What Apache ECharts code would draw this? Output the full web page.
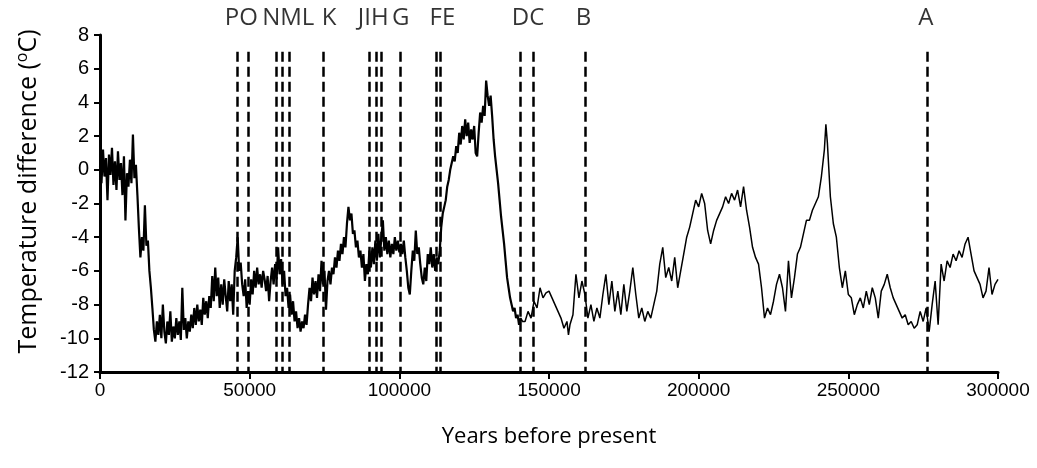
<!DOCTYPE html>
<html>
<head>
<meta charset="utf-8">
<script src="https://cdn.jsdelivr.net/npm/echarts@6/dist/echarts.min.js"></script>
<style>
html, body { margin: 0; padding: 0; background: #fff; }
#chart { width: 1037px; height: 468px; }
</style>
</head>
<body>
<div id="chart"></div>
<script>
// ice core temperature record, ages in thousands of years before present
var ageKyr = [
    0, 0.5, 1, 1.5, 2, 2.5, 3, 3.5, 4, 4.5,
    5, 5.5, 6, 6.5, 7, 7.5, 8, 8.5, 9, 9.5,
    10, 10.5, 11, 11.5, 12, 12.5, 13, 13.5, 14, 14.5,
    15, 15.5, 16, 16.5, 17, 17.5, 18, 18.5, 19, 19.5,
    20, 20.5, 21, 21.5, 22, 22.5, 23, 23.5, 24, 24.5,
    25, 25.5, 26, 26.5, 27, 27.5, 28, 28.5, 29, 29.5,
    30, 30.5, 31, 31.5, 32, 32.5, 33, 33.5, 34, 34.5,
    35, 35.5, 36, 36.5, 37, 37.5, 38, 38.5, 39, 39.5,
    40, 40.5, 41, 41.5, 42, 42.5, 43, 43.5, 44, 44.5,
    45, 45.5, 46, 46.5, 47, 47.5, 48, 48.5, 49, 49.5,
    50, 50.5, 51, 51.5, 52, 52.5, 53, 53.5, 54, 54.5,
    55, 55.5, 56, 56.5, 57, 57.5, 58, 58.5, 59, 59.5,
    60, 60.5, 61, 61.5, 62, 62.5, 63, 63.5, 64, 64.5,
    65, 65.5, 66, 66.5, 67, 67.5, 68, 68.5, 69, 69.5,
    70, 70.5, 71, 71.5, 72, 72.5, 73, 73.5, 74, 74.5,
    75, 75.5, 76, 76.5, 77, 77.5, 78, 78.5, 79, 79.5,
    80, 80.5, 81, 81.5, 82, 82.5, 83, 83.5, 84, 84.5,
    85, 85.5, 86, 86.5, 87, 87.5, 88, 88.5, 89, 89.5,
    90, 90.5, 91, 91.5, 92, 92.5, 93, 93.5, 94, 94.5,
    95, 95.5, 96, 96.5, 97, 97.5, 98, 98.5, 99, 99.5,
    100, 100.5, 101, 101.5, 102, 102.5, 103, 103.5, 104, 104.5,
    105, 105.5, 106, 106.5, 107, 107.5, 108, 108.5, 109, 109.5,
    110, 110.5, 111, 111.5, 112, 112.5, 113, 113.5, 114, 114.5,
    115, 115.5, 116, 116.5, 117, 117.5, 118, 118.5, 119, 119.5,
    120, 120.5, 121, 121.5, 122, 122.5, 123, 123.5, 124, 124.5,
    125, 125.5, 126, 126.5, 127, 127.5, 128, 128.5, 129, 129.5,
    130, 130.5, 131, 131.5, 132, 132.5, 133, 133.5, 134, 134.5,
    135, 135.5, 136, 136.5, 137, 137.5, 138, 138.5, 139, 139.5,
    140, 140.5, 141,
    142, 143, 144, 145, 146, 147, 148, 149, 150, 151,
    152, 153, 154, 155, 156, 156.5,
    157, 158, 159, 160, 161, 162, 163, 164, 165, 166,
    167, 168, 169, 170, 171, 172, 173, 174, 175, 176,
    177, 178, 179, 180, 181, 182, 183, 184, 185, 186,
    187, 188, 189, 190, 191, 192, 193, 194, 195, 196,
    197, 198, 199, 200, 201, 202, 203, 204, 205, 206,
    207, 208, 209, 210, 211, 212, 213, 214, 215, 216,
    217, 218, 219, 220, 221, 222, 223, 224, 225, 226,
    227, 228, 229, 230, 231, 232, 233, 234, 235, 236,
    237, 238, 239, 240, 241, 242, 242.5,
    243, 244, 245, 246, 247, 248, 249, 250, 251, 252,
    253, 254, 255, 256, 257, 258, 259, 260, 261, 262,
    263, 264, 265, 266, 267, 268, 269, 270, 271, 272,
    273, 274, 275, 276, 277, 278, 279, 280, 281, 282,
    283, 284, 285, 286, 287, 288, 289, 290, 291, 292,
    293, 294, 295, 296, 297, 298, 299, 300
];

var tempDiff = [
    0.2, -0.8, 1.2, -0.4, 0.7, -1.8, 0.9, -0.3, 1.3, -0.9,
    0.5, -1.2, 1.1, -0.6, 0.4, -1.5, 0.8, -3.0, -0.2, -1.0,
    0.6, -0.8, 2.1, -0.5, 0.3, -1.5, -3.5, -5.2, -4.0, -4.8,
    -2.1, -4.5, -4.2, -6.0, -7.0, -8.2, -9.5, -10.2, -9.0, -9.8,
    -8.6, -10.0, -8.0, -9.6, -10.3, -9.0, -9.8, -8.4, -10.2, -9.3,
    -10.0, -8.8, -9.8, -9.0, -10.1, -7.0, -9.5, -8.8, -10.0, -9.0,
    -9.6, -8.6, -9.4, -8.2, -9.2, -8.0, -9.0, -8.3, -9.2, -7.6,
    -8.6, -7.8, -8.8, -7.5, -8.2, -6.3, -7.8, -5.8, -7.5, -6.4,
    -8.2, -6.8, -8.0, -6.5, -7.5, -8.4, -6.6, -7.8, -6.8, -8.6,
    -6.0, -5.2, -4.0, -6.0, -5.5, -6.8, -7.5, -6.5, -8.2, -7.2,
    -8.0, -6.5, -7.4, -6.0, -7.0, -5.8, -6.8, -6.2, -7.0, -6.0,
    -6.5, -7.2, -6.3, -7.8, -6.6, -5.8, -6.8, -5.6, -6.5, -4.6,
    -6.2, -5.3, -6.8, -6.0, -7.5, -7.0, -8.2, -7.4, -8.6, -7.8,
    -9.0, -8.4, -9.4, -8.8, -9.6, -9.0, -9.4, -8.6, -9.2, -8.0,
    -7.0, -7.8, -6.4, -7.4, -6.6, -7.6, -6.2, -7.2, -5.4, -6.8,
    -6.0, -8.3, -6.6, -6.0, -6.8, -5.8, -6.2, -5.2, -5.8, -4.8,
    -5.4, -4.4, -5.0, -4.0, -4.6, -3.2, -2.2, -3.0, -2.6, -3.8,
    -3.6, -4.6, -4.2, -5.2, -4.8, -5.8, -5.0, -6.6, -5.6, -6.2,
    -4.8, -5.8, -4.6, -5.6, -4.2, -5.4, -3.8, -5.2, -4.0, -3.0,
    -4.8, -4.0, -5.0, -4.2, -5.2, -4.4, -5.0, -4.0, -4.8, -4.2,
    -4.9, -4.4, -5.0, -4.2, -5.2, -6.0, -7.0, -7.4, -6.0, -4.8,
    -5.4, -3.6, -5.0, -4.6, -5.6, -6.4, -6.8, -5.8, -6.6, -5.0,
    -5.6, -4.6, -5.8, -5.0, -6.0, -5.2, -5.6, -4.8, -3.4, -2.6,
    -2.2, -1.8, -1.0, -0.6, 0.0, 0.4, 0.8, 0.5, 1.4, 1.0,
    2.2, 1.5, 2.6, 1.8, 3.0, 2.0, 2.8, 1.6, 2.4, 1.8,
    2.6, 1.0, 0.8, 2.2, 3.4, 2.8, 3.8, 3.2, 5.3, 4.4,
    3.8, 4.4, 3.2, 1.8, 0.8, 0.0, -0.8, -1.8, -2.8, -3.6,
    -4.4, -5.4, -6.4, -7.0, -7.6, -8.0, -8.4, -8.2, -8.8, -8.6,
    -9.2, -8.8, -9.0,
    -9.0, -8.4, -8.8, -7.8, -8.2, -7.0, -7.6, -7.3, -7.2, -7.6,
    -8.0, -8.4, -8.8, -9.4, -9.0, -9.8,
    -9.2, -8.6, -6.2, -7.6, -6.6, -7.4, -8.8, -8.0, -9.0, -8.2,
    -8.8, -7.4, -6.2, -8.0, -6.6, -8.4, -7.2, -8.6, -6.8, -8.4,
    -7.2, -5.8, -7.4, -8.8, -8.2, -9.0, -8.4, -8.8, -8.0, -7.2,
    -5.6, -4.6, -6.4, -5.8, -6.6, -5.2, -7.0, -6.0, -5.0, -4.0,
    -3.4, -2.6, -1.8, -2.2, -1.4, -2.0, -3.6, -4.4, -3.6, -3.0,
    -2.6, -2.2, -1.6, -2.0, -1.4, -1.8, -1.2, -2.2, -1.0, -2.4,
    -3.4, -4.6, -5.2, -5.6, -7.0, -8.8, -8.2, -8.6, -7.8, -6.8,
    -6.2, -7.0, -8.4, -5.4, -7.6, -6.4, -5.0, -4.6, -3.8, -3.0,
    -3.0, -2.4, -2.0, -1.6, -0.4, 1.2, 2.7,
    1.6, -1.6, -3.2, -4.0, -5.8, -7.0, -6.0, -7.4, -7.6, -8.6,
    -8.0, -7.6, -8.2, -7.2, -8.0, -7.0, -7.6, -8.8, -7.2, -6.8,
    -6.2, -7.0, -7.6, -8.0, -8.4, -8.8, -8.6, -9.2, -9.0, -9.4,
    -9.2, -8.4, -9.0, -8.2, -9.6, -8.0, -6.6, -9.2, -5.6, -6.6,
    -5.4, -5.8, -5.0, -5.4, -4.8, -5.2, -4.4, -4.0, -5.0, -6.0,
    -6.4, -6.8, -7.6, -7.2, -5.8, -7.4, -6.8, -6.5
];

// the densely sampled part of the record ends here (kyr)
var denseEndKyr = 141;

// dated events marked with dashed lines
var eventNames = ['P', 'O', 'N', 'M', 'L', 'K', 'J', 'I', 'H', 'G', 'F', 'E', 'D', 'C', 'B', 'A'];
var eventYears = [45700, 49500, 59000, 61000, 63200, 74600, 89900, 92400, 93900, 100200,
    112200, 113600, 140500, 144800, 162000, 276200];

// letters above the lines, grouped where lines sit close together
var labelGroups = ['PO', 'NML', 'K', 'JIH', 'G', 'FE', 'DC', 'B', 'A'];
var labelGroupYears = [47200, 62900, 76500, 91300, 100500, 114400, 143000, 161500, 275900];

function renderTemperatureChart(chartDivId) {
    var chart = echarts.init(document.getElementById(chartDivId));

    var dense = [];
    var sparse = [];
    for (var i = 0; i < ageKyr.length; i++) {
        var pt = [ageKyr[i] * 1000, tempDiff[i]];
        if (ageKyr[i] <= denseEndKyr) dense.push(pt);
        if (ageKyr[i] >= denseEndKyr) sparse.push(pt);
    }
    var eventLines = [];
    for (var j = 0; j < eventYears.length; j++) {
        eventLines.push([
            {name: eventNames[j], coord: [eventYears[j], 7]},
            {coord: [eventYears[j], -12]}
        ]);
    }
    var labelPoints = [];
    for (var k = 0; k < labelGroups.length; k++) {
        labelPoints.push({name: labelGroups[k], value: [labelGroupYears[k], 9]});
    }

    var axisColor = '#000';
    var options = {
        animation: false,
        grid: {
            left: 100,
            right: 39,
            top: 35,
            bottom: 96
        },
        xAxis: {
            type: 'value',
            min: 0,
            max: 300000,
            interval: 50000,
            name: 'Years before present',
            nameLocation: 'middle',
            nameGap: 54,
            nameTextStyle: {fontFamily: 'Open Sans', fontSize: 22, color: axisColor},
            axisLine: {onZero: false, lineStyle: {color: axisColor, width: 3}},
            axisTick: {length: 7, lineStyle: {color: axisColor, width: 2}},
            axisLabel: {
                fontFamily: 'Liberation Sans',
                fontSize: 19,
                color: axisColor,
                margin: 9,
                formatter: function (v) { return String(v); }
            },
            splitLine: {show: false}
        },
        yAxis: {
            type: 'value',
            min: -12,
            max: 8,
            interval: 2,
            name: 'Temperature difference ({sup|o}C)',
            nameLocation: 'middle',
            nameGap: 56,
            nameTextStyle: {
                fontFamily: 'Open Sans',
                fontSize: 25,
                color: axisColor,
                padding: [0, 0, 0, 24],
                rich: {
                    sup: {fontFamily: 'Open Sans', fontSize: 16, color: axisColor, padding: [0, 0, 14, 0]}
                }
            },
            axisLine: {show: true, onZero: false, lineStyle: {color: axisColor, width: 3}},
            axisTick: {show: true, length: 6, lineStyle: {color: axisColor, width: 2}},
            axisLabel: {fontFamily: 'Liberation Sans', fontSize: 20, color: axisColor, margin: 11},
            splitLine: {show: false}
        },
        series: [
            {
                name: 'Temperature',
                type: 'line',
                data: dense,
                showSymbol: false,
                symbol: 'none',
                lineStyle: {color: '#000', width: 2.2},
                markLine: {
                    silent: true,
                    symbol: ['none', 'none'],
                    label: {show: false},
                    lineStyle: {color: '#000', width: 2.5, type: [10, 5]},
                    data: eventLines
                }
            },
            {
                name: 'Temperature (older)',
                type: 'line',
                data: sparse,
                showSymbol: false,
                symbol: 'none',
                lineStyle: {color: '#000', width: 1.5}
            },
            {
                name: 'Events',
                type: 'scatter',
                data: labelPoints,
                symbolSize: 1,
                clip: false,
                itemStyle: {color: 'rgba(0,0,0,0)'},
                label: {
                    show: true,
                    position: 'inside',
                    formatter: '{b}',
                    fontFamily: 'Open Sans',
                    fontSize: 24,
                    color: '#000'
                }
            }
        ]
    };

    chart.setOption(options);
}

renderTemperatureChart('chart');
</script>
</body>
</html>
